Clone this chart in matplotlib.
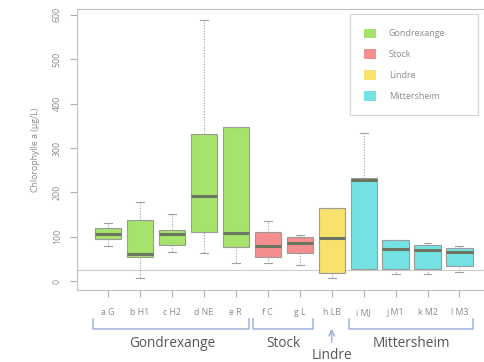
import matplotlib.pyplot as plt
from matplotlib.patches import Patch

plt.rcParams['font.family'] = ['Open Sans', 'DejaVu Sans']

# sites and their boxplot stats (ug/L)
sites = ['a G', 'b H1', 'c H2', 'd NE', 'e R', 'f C', 'g L', 'h LB',
         'i MJ', 'j M1', 'k M2', 'l M3']
site_group = ['Gondrexange'] * 5 + ['Stock'] * 2 + ['Lindre'] + ['Mittersheim'] * 4
wlo = [79, 8, 65, 63, 40, 40, 36, 7, 27, 16, 16, 20]
q1 = [95, 54, 81, 110, 77, 54, 63, 18, 27, 27, 27, 34]
med = [107, 60, 107, 192, 108, 80, 85, 96, 227, 72, 70, 65]
q3 = [119, 137, 115, 331, 347, 110, 99, 164, 232, 92, 81, 74]
whi = [131, 178, 151, 588, 347, 135, 104, 164, 333, 92, 86, 79]

groups = ['Gondrexange', 'Stock', 'Lindre', 'Mittersheim']
group_colors = ['#a6e36c', '#f58e8e', '#f8e16c', '#74e2e2']
threshold = 24

color_of = dict(zip(groups, group_colors))

fig = plt.figure(figsize=(4.85, 3.62), dpi=100)
ax = fig.add_axes([0.159, 0.199, 0.841, 0.776])

stats = []
for i in range(len(sites)):
    stats.append(dict(whislo=wlo[i], q1=q1[i], med=med[i], q3=q3[i],
                      whishi=whi[i], fliers=[]))
pos = list(range(1, len(sites) + 1))
bp = ax.bxp(stats, positions=pos, widths=0.82, patch_artist=True,
            boxprops=dict(edgecolor='#9a9a9a', linewidth=0.8),
            medianprops=dict(color='#6b7560', linewidth=2.2),
            whiskerprops=dict(color='#a0a0a0', linestyle=(0, (1, 1.5)), linewidth=0.8),
            capprops=dict(color='#a0a0a0', linewidth=0.8), capwidths=0.25)
for b, g in zip(bp['boxes'], site_group):
    b.set_facecolor(color_of[g])

ax.axhline(threshold, color='#cccccc', linewidth=0.8, zorder=0)

ax.set_xlim(0.03, 12.8)
ax.set_ylim(-20, 613)
ax.set_yticks(range(0, 601, 100))
ax.set_xticks(pos)
ax.set_xticklabels(sites)
ax.tick_params(axis='both', colors='#b0b0b0', labelcolor='#8a8a8a',
               labelsize=6.3, length=5, width=0.8)
ax.tick_params(axis='x', pad=8)
ax.tick_params(axis='y', pad=6)
for lab in ax.get_yticklabels():
    lab.set_rotation(90)
    lab.set_va('center')
ax.set_ylabel('Chlorophylle a (µg/L)', fontsize=6.3, color='#8a8a8a', labelpad=9)
for s in ['top', 'left', 'bottom']:
    ax.spines[s].set_color('#c0c0c0')
ax.spines['right'].set_visible(False)

leg = ax.legend([Patch(facecolor=c, edgecolor='none') for c in group_colors], groups,
                loc='upper left', bbox_to_anchor=(0.669, 0.63, 0.314, 0.352),
                mode='expand', fontsize=6.5,
                labelcolor='#8a8a8a', frameon=True, fancybox=False,
                borderpad=1.6, labelspacing=1.2, handlelength=1.3,
                handleheight=1.3, handletextpad=1.4, borderaxespad=0)
leg.get_frame().set_edgecolor('#c8c8c8')
leg.get_frame().set_linewidth(0.8)

# group brackets under the tick labels
tr = ax.get_xaxis_transform()
bc = '#9fb3e0'
start = 1
for g in groups:
    n = site_group.count(g)
    end = start + n - 1
    mid = (start + end) / 2
    if n > 1:
        x0, x1 = start - 0.47, end + 0.42
        ax.plot([x0, x0, x1, x1], [-0.105, -0.14, -0.14, -0.105], color=bc,
                linewidth=1.1, transform=tr, clip_on=False)
        ax.text(mid, -0.19, g, transform=tr, ha='center', va='center',
                fontsize=9.8, color='#555555')
    else:
        ax.annotate('', xy=(mid, -0.128), xytext=(mid, -0.195), xycoords=tr,
                    textcoords=tr, arrowprops=dict(arrowstyle='->', color=bc, lw=1.1))
        ax.text(mid, -0.235, g, transform=tr, ha='center', va='center',
                fontsize=9.8, color='#555555')
    start = end + 1

fig.savefig('out.png', dpi=100)
